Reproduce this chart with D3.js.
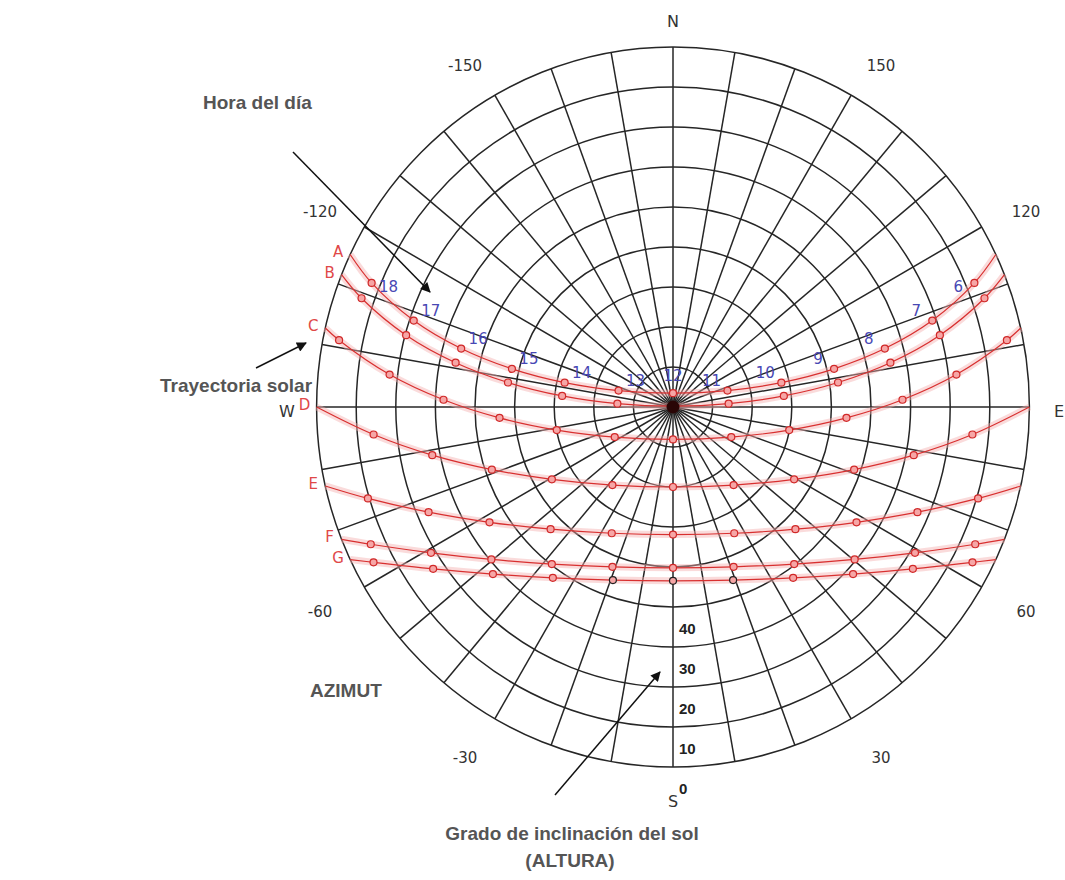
<!DOCTYPE html>
<html lang="es">
<head>
<meta charset="UTF-8">
<title>Carta solar</title>
<script src="https://d3js.org/d3.v7.min.js"></script>
<style>
  body { margin: 0; background: #fff; }
  .ring, .spoke { fill: none; stroke: #262626; stroke-width: 1.5; }
  .halo { fill: none; stroke: #f4b0b0; stroke-width: 7; stroke-opacity: 0.45; }
  .sun { fill: none; stroke: #d83030; stroke-width: 1.2; }
  .note { font-family: "Liberation Sans", Arial, sans-serif; font-weight: bold; fill: #555; }
  .grid-label { font-family: "DejaVu Sans", sans-serif; font-size: 15px; fill: #333; }
</style>
</head>
<body>
<svg width="1065" height="880"></svg>
<script>
// sun paths: [hour, azimuth (deg from S, + = east), altitude (deg)]
const pathA = [
  [5.39, 115.07, 0], [6, 112.17, 7.82], [7, 108.27, 21.05], [8, 105.27, 34.55],
  [9, 103.19, 48.22], [10, 102.55, 61.97], [11, 106.6, 75.65], [12, 180, 86.55],
  [13, -106.6, 75.65], [14, -102.55, 61.97], [15, -103.19, 48.22], [16, -105.27, 34.55],
  [17, -108.27, 21.05], [18, -112.17, 7.82], [18.61, -115.07, 0]
];
const pathB = [
  [5.49, 111.56, 0], [6, 109.07, 6.78], [7, 104.91, 20.26], [8, 101.4, 34.0],
  [9, 98.36, 47.88], [10, 95.65, 61.87], [11, 93.4, 75.93], [12, 180, 89.8],
  [13, -93.4, 75.93], [14, -95.65, 61.87], [15, -98.36, 47.88], [16, -101.4, 34.0],
  [17, -104.91, 20.26], [18, -109.07, 6.78], [18.51, -111.56, 0]
];
const pathC = [
  [5.71, 102.67, 0], [6, 101.2, 4.04], [7, 96.47, 17.97], [8, 91.79, 32.02],
  [9, 86.46, 46.11], [10, 78.89, 60.09], [11, 62.93, 73.47], [12, 0, 81.9],
  [13, -62.93, 73.47], [14, -78.89, 60.09], [15, -86.46, 46.11], [16, -91.79, 32.02],
  [17, -96.47, 17.97], [18, -101.2, 4.04], [18.29, -102.67, 0]
];
const pathD = [
  [6, 90, 0], [7, 84.8, 14.08], [8, 78.8, 28.02], [9, 71.1, 41.65],
  [10, 59.4, 54.47], [11, 38.1, 65.2], [12, 0, 70],
  [13, -38.1, 65.2], [14, -59.4, 54.47], [15, -71.1, 41.65], [16, -78.8, 28.02],
  [17, -84.8, 14.08], [18, -90, 0]
];
const pathE = [
  [6.29, 77.33, 0], [7, 73.48, 9.64], [8, 66.93, 22.91], [9, 58.12, 35.43],
  [10, 45.33, 46.54], [11, 26.1, 54.85], [12, 0, 58.1],
  [13, -26.1, 54.85], [14, -45.33, 46.54], [15, -58.12, 35.43], [16, -66.93, 22.91],
  [17, -73.48, 9.64], [17.71, -77.33, 0]
];
const pathF = [
  [6.51, 68.44, 0], [7, 65.79, 6.32], [8, 59.18, 18.84], [9, 50.28, 30.37],
  [10, 37.92, 40.21], [11, 20.95, 47.21], [12, 0, 49.8],
  [13, -20.95, 47.21], [14, -37.92, 40.21], [15, -50.28, 30.37], [16, -59.18, 18.84],
  [17, -65.79, 6.32], [17.49, -68.44, 0]
];
const pathG = [
  [6.61, 64.93, 0], [7, 62.82, 4.99], [8, 56.26, 17.16], [9, 47.44, 28.26],
  [10, 35.4, 37.62], [11, 19.33, 44.15], [12, 0, 46.55],
  [13, -19.33, 44.15], [14, -35.4, 37.62], [15, -47.44, 28.26], [16, -56.26, 17.16],
  [17, -62.82, 4.99], [17.39, -64.93, 0]
];
const curveNames = ["A", "B", "C", "D", "E", "F", "G"];
const curves = [pathA, pathB, pathC, pathD, pathE, pathF, pathG];
const darkHoursG = [11, 12, 13];

const hourLabels = [6, 7, 8, 9, 10, 11, 12, 13, 14, 15, 16, 17, 18];
const azimuthLabels = [-150, 150, -120, 120, -60, 60, -30, 30];
const compass = [["N", 180], ["E", 90], ["S", 0], ["W", -90]];
const altitudeLabels = [0, 10, 20, 30, 40];
const altitudeRings = [0, 10, 20, 30, 40, 50, 60, 70, 80];
const azimuthSpokes = d3.range(-180, 180, 10);

const cx = 673, cy = 407, R = 360, squeeze = 0.99;
const svg = d3.select("svg");

// altitude -> radius (equidistant polar chart)
const r = d3.scaleLinear().domain([90, 0]).range([0, R]);
const rad = d => d * Math.PI / 180;
function project(az, alt) {
  const rr = r(alt);
  return [cx + rr * Math.sin(rad(az)) * squeeze, cy + rr * Math.cos(rad(az))];
}

// grid
const grid = svg.append("g");
grid.selectAll("ellipse").data(altitudeRings).join("ellipse")
  .attr("class", "ring")
  .attr("cx", cx).attr("cy", cy)
  .attr("rx", d => r(d) * squeeze).attr("ry", d => r(d));
grid.selectAll("line").data(azimuthSpokes).join("line")
  .attr("class", "spoke")
  .attr("x1", d => project(d, 90)[0]).attr("y1", d => project(d, 90)[1])
  .attr("x2", d => project(d, 0)[0]).attr("y2", d => project(d, 0)[1]);

// grid labels
svg.selectAll(".az-label").data(azimuthLabels).join("text")
  .attr("class", "grid-label az-label")
  .attr("x", d => project(d, -10)[0] + Math.sign(d) * 10)
  .attr("y", d => project(d, -10)[1] + 5)
  .attr("text-anchor", "middle").attr("dominant-baseline", "central")
  .text(d => d);

svg.selectAll(".compass").data(compass).join("text")
  .attr("class", "grid-label compass")
  .attr("x", d => project(d[1], -7.5)[0]).attr("y", d => project(d[1], -7.5)[1] + 4)
  .attr("text-anchor", "middle").attr("dominant-baseline", "central")
  .style("font-size", "16px")
  .text(d => d[0]);

svg.selectAll(".alt-label").data(altitudeLabels).join("text")
  .attr("class", "alt-label")
  .attr("x", cx + 6).attr("y", d => project(0, d)[1] + 21)
  .attr("dominant-baseline", "central")
  .style("font-family", "'Liberation Sans Narrow', 'Liberation Sans', sans-serif")
  .style("font-weight", "bold").style("font-size", "15px").style("fill", "#222")
  .text(d => d);

// sun paths
const line = d3.line()
  .x(d => project(d[1], d[2])[0])
  .y(d => project(d[1], d[2])[1])
  .curve(d3.curveCatmullRom);

const paths = svg.append("g");
curves.forEach(c => {
  paths.append("path").attr("class", "halo").attr("d", line(c));
});
curves.forEach(c => {
  paths.append("path").attr("class", "sun").attr("d", line(c));
});

curves.forEach((c, i) => {
  const pts = c.filter(d => Number.isInteger(d[0]) && d[2] > 0);
  paths.append("g").selectAll("circle").data(pts).join("circle")
    .attr("cx", d => project(d[1], d[2])[0])
    .attr("cy", d => project(d[1], d[2])[1])
    .attr("r", 3.5)
    .attr("fill", "#f6a6a6")
    .attr("stroke", d => (curveNames[i] === "G" && darkHoursG.includes(d[0])) ? "#222" : "#d02828")
    .attr("stroke-width", 1.2);

  // curve letter next to the sunset end
  const end = c[c.length - 1];
  const p = project(end[1], end[2]);
  paths.append("text")
    .attr("x", p[0] - 12).attr("y", p[1] - 2)
    .attr("text-anchor", "middle").attr("dominant-baseline", "central")
    .style("font-family", "'DejaVu Sans', sans-serif").style("font-size", "15px")
    .style("fill", "#e04848")
    .text(curveNames[i]);
});

// centre dot
svg.append("circle").attr("cx", cx).attr("cy", cy).attr("r", 6.5).attr("fill", "#2a0606");

// hour labels along path A
svg.selectAll(".hour").data(hourLabels).join("text")
  .attr("class", "hour")
  .attr("x", h => {
    const d = pathA.find(p => p[0] === h);
    return project(d[1], d[2])[0] + (h > 12 ? 17 : h < 12 ? -16 : 0);
  })
  .attr("y", h => {
    const d = pathA.find(p => p[0] === h);
    return project(d[1], d[2])[1] + (h === 6 || h === 18 ? 4 : h === 12 ? -17 : -10);
  })
  .attr("text-anchor", "middle").attr("dominant-baseline", "central")
  .style("font-family", "'DejaVu Sans', sans-serif").style("font-size", "15px")
  .style("fill", "#4848b4")
  .text(h => h);

// annotations
const defs = svg.append("defs");
defs.append("marker").attr("id", "arrow")
  .attr("viewBox", "0 0 10 10").attr("refX", 9).attr("refY", 5)
  .attr("markerWidth", 12).attr("markerHeight", 10).attr("markerUnits", "userSpaceOnUse")
  .attr("orient", "auto")
  .append("path").attr("d", "M0,0L10,5L0,10Z").attr("fill", "#111");

const arrows = [
  [[293, 152], [430, 292]],
  [[256, 368], [306, 343]],
  [[555, 795], [660, 672]]
];
svg.selectAll(".arrow").data(arrows).join("line")
  .attr("class", "arrow")
  .attr("x1", d => d[0][0]).attr("y1", d => d[0][1])
  .attr("x2", d => d[1][0]).attr("y2", d => d[1][1])
  .attr("stroke", "#111").attr("stroke-width", 1.5)
  .attr("marker-end", "url(#arrow)");

const notes = [
  ["Hora del día", 203, 102, "start"],
  ["Trayectoria solar", 160, 385, "start"],
  ["AZIMUT", 310, 690, "start"],
  ["Grado de inclinación del sol", 572, 833, "middle"],
  ["(ALTURA)", 570, 860, "middle"]
];
svg.selectAll(".note").data(notes).join("text")
  .attr("class", "note")
  .attr("x", d => d[1]).attr("y", d => d[2])
  .attr("text-anchor", d => d[3]).attr("dominant-baseline", "central")
  .style("font-size", "19px")
  .text(d => d[0]);
</script>
</body>
</html>
